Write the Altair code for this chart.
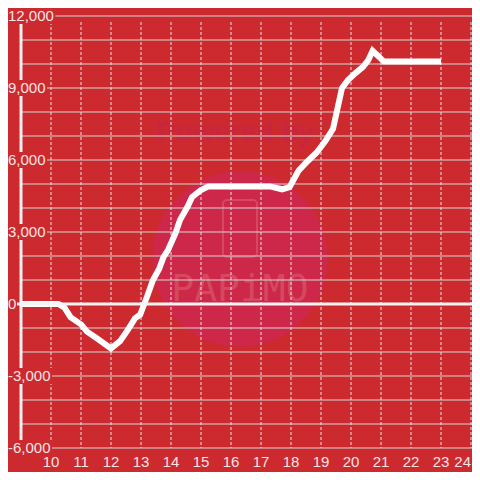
import altair as alt
import pandas as pd

# ---- data ----
hours = [9.0, 10.25, 10.45, 10.65, 11.0, 11.2, 11.55, 12.0, 12.3, 12.55, 12.8, 12.97,
         13.2, 13.4, 13.6, 13.75, 13.9, 14.15, 14.3, 14.55, 14.7, 15.0, 15.25, 17.3,
         17.7, 17.95, 18.25, 18.55, 18.85, 19.15, 19.4, 19.7, 19.9, 20.15, 20.4, 20.57,
         20.72, 21.1, 23.0]
profit = [0, 0, -150, -550, -850, -1150, -1450, -1850, -1550, -1100, -600, -450,
          300, 1000, 1450, 1950, 2250, 2950, 3500, 4050, 4450, 4750, 4900, 4900,
          4780, 4870, 5550, 5950, 6300, 6800, 7300, 9000, 9330, 9620, 9880, 10150,
          10550, 10100, 10100]
x_ticks = list(range(10, 25))
y_grid = list(range(-6000, 12001, 1000))
y_labels = [-6000, -3000, 0, 3000, 6000, 9000, 12000]
watermark_top = ["Powered by"]
watermark_name = ["PAPiMO"]

# ---- styling ----
BG = "#cc2a2f"
LABEL = "#f5e4e4"
W, H = 451, 432
FONT = "Liberation Sans"
xs = alt.Scale(domain=[9, 9 + W / 30], nice=False, zero=False)
ys = alt.Scale(domain=[-6000, 12000], nice=False, zero=False)

one = pd.DataFrame({"k": [0]})
line_df = pd.DataFrame({"h": hours, "p": profit})
ygrid_df = pd.DataFrame({"v": y_grid})
xgrid_df = pd.DataFrame({"v": x_ticks})
zero_df = pd.DataFrame({"v": [0]})


def text_w(s, fs=15):
    w = 0
    for c in s:
        w += {",": 0.278, "-": 0.333}.get(c, 0.556) * fs
    return w


ylab_df = pd.DataFrame({"v": y_labels})
ylab_df["t"] = [f"{v:,}" for v in y_labels]

circle = alt.Chart(one).mark_circle(color="#cd2749", opacity=1, size=30790).encode(
    x=alt.value(219), y=alt.value(243))
powered = alt.Chart(pd.DataFrame({"t": watermark_top})).mark_text(
    font=FONT, fontSize=28, fontWeight="bold", color="#c7254a", opacity=0.6
).encode(x=alt.value(214), y=alt.value(117), text="t:N")
name = alt.Chart(pd.DataFrame({"t": watermark_name})).mark_text(
    font="DejaVu Sans Mono", fontSize=38, color="#d9606e", opacity=0.6
).encode(x=alt.value(219), y=alt.value(274), text="t:N")
phone = alt.Chart(one).mark_rect(
    fillOpacity=0, stroke="#d9606e", strokeOpacity=0.6, strokeWidth=2, cornerRadius=4
).encode(x=alt.value(202), x2=alt.value(236), y=alt.value(184), y2=alt.value(241))

hgrid = alt.Chart(ygrid_df).mark_rule(color="#d6d6d6", strokeWidth=1).encode(
    y=alt.Y("v:Q", scale=ys, axis=None), x=alt.value(0), x2=alt.value(W))
vgrid = alt.Chart(xgrid_df).mark_rule(color="#e6e6e6", strokeWidth=1, strokeDash=[3, 2]).encode(
    x=alt.X("v:Q", scale=xs, axis=None), y=alt.value(6), y2=alt.value(H))
zero = alt.Chart(zero_df).mark_rule(color="#f4f4f4", strokeWidth=3).encode(
    y=alt.Y("v:Q", scale=ys, axis=None), x=alt.value(-4), x2=alt.value(W))
yaxis = alt.Chart(one).mark_rule(color="#f0f0f0", strokeWidth=3).encode(
    x=alt.value(0), y=alt.value(0), y2=alt.value(H))

line = alt.Chart(line_df).mark_line(color="white", strokeWidth=6).encode(
    x=alt.X("h:Q", scale=xs, axis=None), y=alt.Y("p:Q", scale=ys, axis=None))

bg_layers = []
for v, t in zip(ylab_df["v"], ylab_df["t"]):
    d = pd.DataFrame({"lo": [v - 330], "hi": [v + 330]})
    bg_layers.append(
        alt.Chart(d).mark_rect(color=BG).encode(
            x=alt.value(-13), x2=alt.value(-13 + text_w(t) + 1.5),
            y=alt.Y("lo:Q", scale=ys, axis=None), y2="hi:Q")
    )

ylab = alt.Chart(ylab_df).mark_text(
    font=FONT, fontSize=15, color=LABEL, align="left", baseline="middle"
).encode(x=alt.value(-13), y=alt.Y("v:Q", scale=ys, axis=None), text="t:N")
xlab_mid = alt.Chart(pd.DataFrame({"v": x_ticks[:-1]})).mark_text(
    font=FONT, fontSize=15, color=LABEL, align="center", baseline="middle"
).encode(x=alt.X("v:Q", scale=xs, axis=None), y=alt.value(H + 13.5), text="v:N")
xlab_last = alt.Chart(pd.DataFrame({"v": x_ticks[-1:]})).mark_text(
    font=FONT, fontSize=15, color=LABEL, align="right", baseline="middle"
).encode(x=alt.X("v:Q", scale=xs, axis=None), y=alt.value(H + 13.5), text="v:N")

chart = alt.layer(
    circle, powered, name, phone, hgrid, vgrid, yaxis, line, *bg_layers, zero,
    ylab, xlab_mid, xlab_last
).properties(
    width=W, height=H,
    autosize=alt.AutoSizeParams(type="none"),
    padding={"left": 13, "top": 8, "right": 0, "bottom": 24},
    background=BG,
).configure_view(stroke=None)

chart.save("out.html", embed_options={"renderer": "svg", "actions": False})
